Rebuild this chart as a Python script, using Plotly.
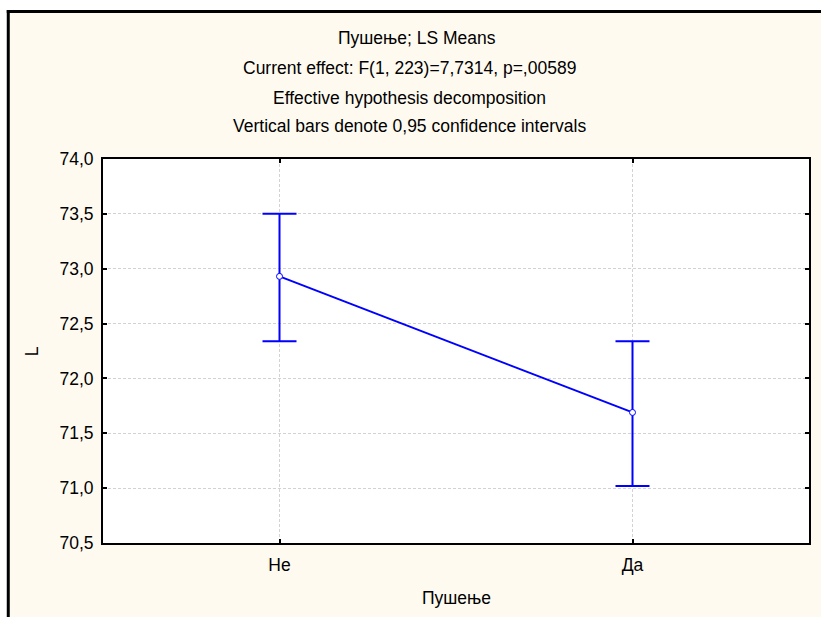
import plotly.graph_objects as go

# ---- data ----
categories = ["Не", "Да"]
ls_means = [72.93, 71.69]
ci_upper = [73.50, 72.34]
ci_lower = [72.34, 71.02]
y_ticks = [70.5, 71.0, 71.5, 72.0, 72.5, 73.0, 73.5, 74.0]
title_lines = [
    "Пушење; LS Means",
    "Current effect: F(1, 223)=7,7314, p=,00589",
    "Effective hypothesis decomposition",
    "Vertical bars denote 0,95 confidence intervals",
]
x_title = "Пушење"
y_title = "L"

BLUE = "#0000FF"
CREAM = "#FFFAF0"
FONT = "Liberation Sans, Arial, sans-serif"
FS = 17.5

W, H = 821, 617
ML, MR, MT, MB = 103, 10, 159, 74
PW, PH = W - ML - MR, H - MT - MB


def px(xp):
    return (xp - ML) / PW


def py(yp):
    return (H - MB - yp) / PH


err_plus = [u - m for u, m in zip(ci_upper, ls_means)]
err_minus = [m - l for m, l in zip(ls_means, ci_lower)]

fig = go.Figure()
fig.add_trace(go.Scatter(
    x=categories, y=ls_means,
    mode="lines+markers",
    line=dict(color=BLUE, width=2),
    marker=dict(symbol="circle", size=6, color="white", line=dict(color=BLUE, width=1)),
    error_y=dict(type="data", symmetric=False, array=err_plus, arrayminus=err_minus,
                 color=BLUE, thickness=2, width=17),
    showlegend=False,
))

annotations = []
title_y = [38.3, 67.5, 97.5, 126.0]
title_x = [418, 410.5, 410.5, 410.5]
for txt, xx, yy in zip(title_lines, title_x, title_y):
    annotations.append(dict(text=txt, xref="paper", yref="paper", x=px(xx), y=py(yy),
                            xanchor="center", yanchor="middle", showarrow=False,
                            font=dict(family=FONT, size=FS, color="black")))
annotations.append(dict(text=x_title, xref="paper", yref="paper", x=px(457), y=py(598),
                        xanchor="center", yanchor="middle", showarrow=False,
                        font=dict(family=FONT, size=FS, color="black")))
annotations.append(dict(text=y_title, xref="paper", yref="paper", x=px(32), y=py(351),
                        xanchor="center", yanchor="middle", showarrow=False, textangle=-90,
                        font=dict(family=FONT, size=FS, color="black")))

shapes = [
    # white page outside the frame
    dict(type="rect", xref="paper", yref="paper", x0=-0.3, x1=1.3, y0=py(10), y1=1.6,
         fillcolor="white", line=dict(width=0), layer="below"),
    dict(type="rect", xref="paper", yref="paper", x0=-0.3, x1=px(7), y0=-0.4, y1=1.6,
         fillcolor="white", line=dict(width=0), layer="below"),
    # frame lines
    dict(type="line", xref="paper", yref="paper", x0=px(8), x1=px(8), y0=-0.4, y1=py(10),
         line=dict(color="black", width=3)),
    dict(type="line", xref="paper", yref="paper", x0=px(6.5), x1=1.3, y0=py(11.5), y1=py(11.5),
         line=dict(color="black", width=3)),
]

axis_common = dict(
    showline=True, linecolor="black", linewidth=2, mirror="ticks",
    ticks="inside", ticklen=4, tickwidth=2, tickcolor="black",
    showgrid=True, gridcolor="#D2D2D2", gridwidth=1, griddash="3px,2px",
    zeroline=False,
    tickfont=dict(family=FONT, size=FS, color="black"),
)

fig.update_layout(
    width=W, height=H,
    margin=dict(l=ML, r=MR, t=MT, b=MB),
    paper_bgcolor=CREAM, plot_bgcolor="white",
    separators=", ",
    annotations=annotations,
    shapes=shapes,
    xaxis=dict(type="category", range=[-0.5, 1.5], ticklabelstandoff=5, **axis_common),
    yaxis=dict(range=[70.5, 74.0], tickvals=y_ticks, tickformat=".1f",
               ticklabelstandoff=4, **axis_common),
)

fig.write_html("out.html")
